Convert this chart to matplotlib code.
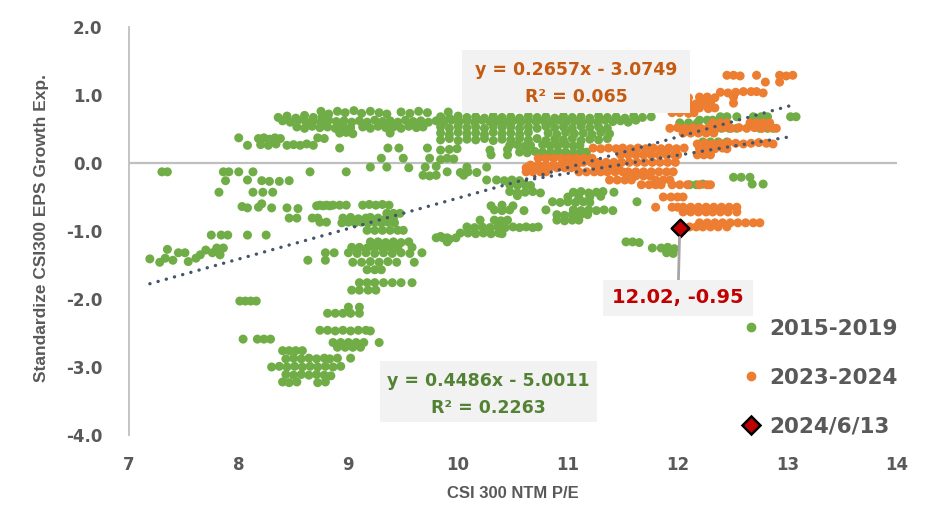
import matplotlib
matplotlib.use("Agg")
import matplotlib.pyplot as plt
from matplotlib.lines import Line2D
from matplotlib.patches import Rectangle
import numpy as np

# ---------------- data ----------------
green_x_rows = [
    [8.75, 8.82, 8.90, 8.97, 9.05, 9.12, 9.20, 9.28, 9.35, 9.48, 9.56, 9.64, 9.72, 9.91],
    [8.36, 8.44, 8.52, 8.60, 8.68, 8.76],
    [9.84, 9.92, 10.00, 10.08, 10.16, 10.24, 10.32, 10.40, 10.48, 10.56, 10.64, 10.72, 10.80],
    [10.88, 10.96, 11.04, 11.12, 11.20, 11.28, 11.36, 11.44, 11.52, 11.60, 11.68, 11.76],
    [8.40, 8.47, 8.54, 8.61, 8.68, 8.75, 8.82, 8.89, 8.96, 9.03],
    [9.10, 9.17, 9.24, 9.31, 9.38, 9.45, 9.52, 9.59, 9.66, 9.73],
    [9.80, 9.87, 9.94, 10.01, 10.08, 10.15, 10.22, 10.29, 10.36, 10.43],
    [10.50, 10.57, 10.64, 10.71, 10.78, 10.85, 10.92, 10.99, 11.06, 11.13],
    [11.20, 11.27, 11.34, 11.41, 11.48, 11.55, 11.62],
    [8.53, 8.60, 8.67, 8.74, 8.81, 8.88, 8.95, 9.02],
    [9.13, 9.20, 9.27, 9.34, 9.41, 9.48, 9.55, 9.62, 9.68],
    [9.84, 9.92, 10.00, 10.08, 10.16, 10.24, 10.32, 10.40, 10.48, 10.56],
    [10.64, 10.72, 10.80, 10.88, 10.96, 11.04, 11.12, 11.20, 11.28, 11.36],
    [8.92, 8.98, 9.04, 9.38],
    [9.84, 9.92, 10.00, 10.08, 10.16, 10.24, 10.32, 10.40, 10.48, 10.56, 10.64],
    [10.82, 10.90, 10.98, 11.06, 11.14, 11.22, 11.30, 11.38],
    [8.00, 8.18, 8.23, 8.28, 8.33, 8.38, 8.72, 8.78],
    [9.84, 9.92, 10.00, 10.08, 10.16, 10.24, 10.32, 10.40, 10.48, 10.56],
    [10.64, 10.72, 10.80, 10.88, 10.96, 11.04, 11.12, 11.20, 11.28, 11.36],
    [8.08, 8.20, 8.27, 8.34, 8.44, 8.50, 8.56, 8.62, 8.68],
    [10.47, 10.54, 10.61, 10.66, 10.77, 10.84, 10.91, 10.98, 11.05, 11.11],
    [8.92, 9.36, 9.46, 9.72, 9.84, 9.92, 9.99, 10.29, 10.45],
    [10.56, 10.63, 10.70, 10.77, 10.84, 10.91, 10.98, 11.05, 11.12, 11.17],
    [9.30, 9.50, 9.74, 9.84, 9.90, 9.96, 10.30, 10.45],
    [9.20, 9.35, 9.55, 9.70, 9.80, 10.08, 10.26],
    [7.30, 7.35, 7.86, 7.91, 8.00, 8.13, 8.65, 8.98, 9.90, 10.02, 10.09, 10.17],
    [9.68, 9.74, 9.80, 10.05],
    [7.88, 8.08, 8.21, 8.28, 8.37, 8.46, 10.26, 10.35, 10.42, 10.49, 10.56],
    [10.47, 10.54, 10.61, 10.66, 12.11, 12.17, 12.23, 12.51, 12.58],
    [12.66, 12.68, 12.78],
    [7.82, 8.13, 8.22, 8.31, 10.47, 10.54, 10.61, 10.68, 10.75, 11.05, 11.12, 11.19, 11.26, 11.32, 11.42],
    [10.54, 11.00, 11.10, 11.20, 11.30],
    [10.86, 10.93, 11.00, 11.07, 11.14, 11.20, 11.63],
    [8.03, 8.08, 8.18, 8.21, 8.30, 8.44, 8.54, 8.71, 8.77, 8.83],
    [8.74, 8.80, 8.86, 8.92, 8.98, 9.13, 9.19, 9.25, 9.31, 9.37],
    [10.30, 10.40, 10.50],
    [10.33, 10.40, 10.47, 10.60, 10.80, 11.05, 11.12, 11.19, 11.26, 11.33, 11.41],
    [9.35, 9.41, 9.47, 10.90, 10.97, 11.04, 11.11, 11.18],
    [8.46, 8.53, 8.67, 8.72, 8.95, 9.02, 9.09, 9.16, 9.20, 9.27],
    [9.34, 9.41, 10.20, 10.33, 10.39, 10.45, 10.90, 10.97, 11.04, 11.10],
    [8.74, 8.80, 8.94, 9.00, 9.06, 9.12, 9.18, 9.24, 9.30, 9.36, 9.42],
    [10.08, 10.15, 10.22, 10.29, 10.36, 10.43, 10.50, 10.56, 10.62, 10.68, 10.73],
    [9.17, 9.24, 9.31, 9.38, 9.45, 9.50, 9.84, 9.90],
    [10.02, 10.09, 10.16, 10.23, 10.30, 10.37, 10.40],
    [7.75, 7.84, 7.90, 8.08, 8.25, 9.80, 9.86, 9.92, 9.98],
    [9.20, 9.27, 9.34, 9.41, 9.48, 9.55, 9.90, 11.53, 11.59, 11.65],
    [9.03, 9.10, 9.17, 9.24, 9.31, 9.38, 9.45, 9.58, 11.77, 11.85, 11.91, 11.97],
    [8.79, 8.87, 9.00, 9.08, 9.16, 9.24, 9.32, 9.40, 9.48, 9.56, 9.67, 11.90, 11.96],
    [8.63, 8.79, 9.04, 9.12, 9.20, 9.28, 9.36, 9.44, 9.60],
    [7.19, 7.28, 7.33, 7.35, 7.40, 7.45, 7.51, 7.54, 7.61, 7.65, 7.70, 7.76, 7.80, 7.83, 7.86],
    [9.17, 9.24, 9.30, 9.10, 9.17, 9.24, 9.32, 9.40, 9.48, 9.58, 9.03, 9.10, 9.18, 9.25],
    [8.01, 8.06, 8.11, 8.16, 9.00, 9.10, 8.81, 8.88, 8.95, 9.02, 9.10],
    [8.74, 8.81, 8.88, 8.95, 9.02, 9.09, 9.16, 9.20],
    [8.04, 8.17, 8.23, 8.29, 8.86, 8.93, 9.00, 9.07, 9.14, 9.28],
    [8.90, 8.97, 9.04, 9.11, 8.40, 8.46, 8.52, 8.58],
    [8.43, 8.50, 8.57, 8.64, 8.71, 8.78, 8.83, 8.90, 9.02],
    [8.30, 8.37, 8.44, 8.51, 8.58, 8.65, 8.72, 8.79, 8.86, 8.93],
    [8.43, 8.50, 8.57, 8.64, 8.71, 8.78, 8.84],
    [8.40, 8.46, 8.53, 8.72, 8.79],
    [12.23, 12.30, 12.39, 12.45, 12.54, 12.69, 12.76, 12.82, 13.03, 13.08],
    [12.20, 12.27, 12.32, 12.02, 12.10, 12.18, 12.41, 12.32, 12.40, 12.47],
    [12.54, 12.75, 12.82, 12.87, 12.23, 12.30, 12.37, 12.45],
]
green_y_rows = [
    [0.76, 0.72, 0.76, 0.74, 0.77, 0.73, 0.76, 0.74, 0.72, 0.75, 0.73, 0.76, 0.74, 0.75],
    [0.67, 0.69, 0.66, 0.70, 0.67, 0.68],
    [0.68, 0.66, 0.69, 0.67, 0.68, 0.66, 0.69, 0.67, 0.68, 0.66, 0.69, 0.67, 0.68],
    [0.66, 0.69, 0.67, 0.68, 0.66, 0.69, 0.67, 0.68, 0.66, 0.69, 0.67, 0.68],
    [0.62, 0.60, 0.63, 0.61, 0.62, 0.60, 0.63, 0.61, 0.62, 0.60],
    [0.62, 0.60, 0.63, 0.61, 0.62, 0.60, 0.63, 0.61, 0.62, 0.60],
    [0.62, 0.60, 0.63, 0.61, 0.62, 0.60, 0.63, 0.61, 0.62, 0.60],
    [0.62, 0.60, 0.63, 0.61, 0.62, 0.60, 0.63, 0.61, 0.62, 0.60],
    [0.62, 0.60, 0.63, 0.61, 0.62, 0.60, 0.63],
    [0.53, 0.51, 0.54, 0.52, 0.53, 0.51, 0.54, 0.52],
    [0.53, 0.51, 0.54, 0.52, 0.53, 0.51, 0.54, 0.52, 0.53],
    [0.53, 0.51, 0.54, 0.52, 0.53, 0.51, 0.54, 0.52, 0.53, 0.51],
    [0.53, 0.51, 0.54, 0.52, 0.53, 0.51, 0.54, 0.52, 0.53, 0.51],
    [0.44, 0.45, 0.43, 0.44],
    [0.44, 0.42, 0.45, 0.43, 0.44, 0.42, 0.45, 0.43, 0.44, 0.42, 0.45],
    [0.44, 0.42, 0.45, 0.43, 0.44, 0.42, 0.45, 0.43],
    [0.37, 0.36, 0.37, 0.35, 0.37, 0.36, 0.37, 0.36],
    [0.34, 0.36, 0.33, 0.35, 0.34, 0.36, 0.33, 0.35, 0.34, 0.36],
    [0.34, 0.36, 0.33, 0.35, 0.34, 0.36, 0.33, 0.35, 0.34, 0.36],
    [0.26, 0.27, 0.26, 0.28, 0.26, 0.27, 0.26, 0.28, 0.26],
    [0.26, 0.27, 0.25, 0.26, 0.27, 0.25, 0.26, 0.27, 0.25, 0.26],
    [0.22, 0.22, 0.22, 0.22, 0.19, 0.20, 0.21, 0.19, 0.20],
    [0.16, 0.15, 0.17, 0.16, 0.15, 0.17, 0.16, 0.15, 0.17, 0.16],
    [0.07, 0.07, 0.07, 0.05, 0.07, 0.06, 0.12, 0.12],
    [-0.06, -0.06, -0.07, -0.06, -0.05, -0.06, -0.06],
    [-0.13, -0.13, -0.13, -0.13, -0.13, -0.13, -0.13, -0.13, -0.13, -0.14, -0.13, -0.14],
    [-0.18, -0.19, -0.18, -0.18],
    [-0.26, -0.25, -0.26, -0.27, -0.27, -0.26, -0.25, -0.25, -0.26, -0.25, -0.26],
    [-0.32, -0.33, -0.32, -0.33, -0.32, -0.32, -0.31, -0.21, -0.21],
    [-0.21, -0.31, -0.31],
    [-0.43, -0.43, -0.43, -0.43, -0.42, -0.44, -0.43, -0.42, -0.44, -0.43, -0.42, -0.44, -0.43, -0.42, -0.43],
    [-0.48, -0.50, -0.51, -0.50, -0.49],
    [-0.57, -0.58, -0.57, -0.58, -0.57, -0.58, -0.57],
    [-0.64, -0.66, -0.65, -0.60, -0.66, -0.66, -0.67, -0.63, -0.63, -0.63],
    [-0.62, -0.62, -0.62, -0.62, -0.62, -0.62, -0.61, -0.62, -0.61, -0.62],
    [-0.63, -0.62, -0.63],
    [-0.69, -0.70, -0.69, -0.70, -0.69, -0.69, -0.70, -0.69, -0.70, -0.69, -0.70],
    [-0.74, -0.74, -0.74, -0.76, -0.77, -0.76, -0.77, -0.76],
    [-0.81, -0.81, -0.81, -0.81, -0.81, -0.80, -0.82, -0.81, -0.80, -0.81],
    [-0.82, -0.81, -0.84, -0.84, -0.85, -0.84, -0.84, -0.85, -0.84, -0.84],
    [-0.87, -0.87, -0.88, -0.87, -0.88, -0.87, -0.88, -0.87, -0.88, -0.87, -0.88],
    [-0.94, -0.95, -0.94, -0.95, -0.94, -0.95, -0.94, -0.95, -0.94, -0.95, -0.94],
    [-0.99, -0.99, -0.99, -0.99, -0.99, -0.99, -1.08, -1.10],
    [-1.03, -1.03, -1.04, -1.03, -1.04, -1.03, -1.04],
    [-1.06, -1.06, -1.06, -1.06, -1.06, -1.10, -1.10, -1.12, -1.10],
    [-1.16, -1.16, -1.17, -1.16, -1.17, -1.16, -1.16, -1.16, -1.16, -1.17],
    [-1.24, -1.24, -1.25, -1.24, -1.25, -1.24, -1.25, -1.24, -1.25, -1.25, -1.24, -1.26],
    [-1.32, -1.32, -1.32, -1.33, -1.32, -1.33, -1.32, -1.33, -1.32, -1.33, -1.32, -1.32, -1.33],
    [-1.43, -1.43, -1.46, -1.46, -1.45, -1.46, -1.45, -1.46, -1.46],
    [-1.41, -1.46, -1.40, -1.27, -1.43, -1.32, -1.32, -1.45, -1.40, -1.35, -1.28, -1.32, -1.25, -1.35, -1.25],
    [-1.57, -1.57, -1.57, -1.76, -1.76, -1.76, -1.76, -1.76, -1.76, -1.76, -1.87, -1.87, -1.87, -1.87],
    [-2.03, -2.03, -2.03, -2.03, -2.12, -2.12, -2.21, -2.21, -2.21, -2.21, -2.21],
    [-2.46, -2.46, -2.47, -2.46, -2.47, -2.46, -2.46, -2.47],
    [-2.59, -2.59, -2.59, -2.59, -2.64, -2.64, -2.64, -2.64, -2.64, -2.64],
    [-2.71, -2.71, -2.71, -2.71, -2.76, -2.76, -2.76, -2.76],
    [-2.88, -2.87, -2.88, -2.87, -2.88, -2.87, -2.88, -2.87, -2.87],
    [-3.00, -2.99, -3.00, -2.99, -3.00, -2.99, -3.00, -2.99, -3.00, -2.99],
    [-3.11, -3.12, -3.11, -3.12, -3.11, -3.12, -3.13],
    [-3.22, -3.23, -3.22, -3.23, -3.22],
    [0.88, 0.88, 0.68, 0.68, 0.68, 0.68, 0.68, 0.68, 0.68, 0.68],
    [0.63, 0.63, 0.63, 0.59, 0.59, 0.59, 0.59, 0.51, 0.51, 0.51],
    [0.51, 0.51, 0.51, 0.51, 0.31, 0.31, 0.31, 0.31],
]

orange_x_rows = [
    [12.45, 12.51, 12.57, 12.72, 12.93, 12.99, 13.05],
    [12.80, 12.93],
    [12.39, 12.46, 12.53, 12.60, 12.67, 12.72, 12.78],
    [11.96, 12.03, 12.10, 12.20, 12.27, 12.34, 12.51],
    [11.96, 12.03, 12.10, 12.17, 12.24, 12.30, 12.51],
    [11.97, 12.05, 12.12, 12.20, 12.28, 12.34],
    [11.95, 12.02, 12.10, 12.15],
    [12.32, 12.39, 12.45, 12.66, 12.72, 12.78, 12.84],
    [11.93, 12.00, 12.07, 12.14, 12.21, 12.28, 12.35, 12.42, 12.49, 12.56, 12.63, 12.70, 12.77, 12.84, 12.90],
    [12.05, 12.12, 12.19, 12.26, 12.33],
    [12.18, 12.25, 12.32, 12.39, 12.46, 12.53, 12.60, 12.67, 12.74, 12.81, 12.87],
    [11.23, 11.30, 11.37, 11.44, 11.50, 11.57, 11.64, 11.71, 11.78, 11.85, 11.92, 11.99, 12.06, 12.20, 12.27, 12.34, 12.41, 12.45],
    [11.48, 11.55, 11.62, 11.69, 11.76, 11.83, 11.90, 11.97, 12.00, 12.18, 12.24, 12.30],
    [10.73, 10.80, 10.87, 10.94, 11.01, 11.08, 11.15, 11.22],
    [11.00, 11.07, 11.14, 11.21, 11.28, 11.35, 11.42, 11.49, 11.56, 11.63, 11.70, 11.77, 11.84, 11.91, 11.98],
    [10.66, 10.73, 10.80, 10.87, 10.94, 11.01, 11.08],
    [10.62, 10.69, 10.76, 10.83, 10.90, 10.97, 11.03, 11.25, 11.32, 11.39, 11.46],
    [10.62, 10.68, 10.75, 10.80, 11.10, 11.17, 11.24, 11.30, 11.36, 11.43, 11.50, 11.55, 11.62, 11.69, 11.76, 11.83, 11.90, 11.96],
    [11.55, 11.62, 11.69, 11.75],
    [11.38, 11.45, 11.52, 11.58, 11.80, 11.87, 11.93],
    [11.67, 11.74, 11.80, 11.85, 11.95, 12.02, 12.09, 12.20, 12.27, 12.30],
    [11.87, 11.94, 12.00, 12.05],
    [11.80, 11.95, 12.00, 12.05, 12.12, 12.19, 12.26, 12.33, 12.40, 12.47, 12.54],
    [12.05, 12.12, 12.19, 12.26, 12.32, 12.39, 12.46, 12.54],
    [12.20, 12.27, 12.34, 12.41, 12.48, 12.55, 12.62, 12.69, 12.75],
    [12.11, 12.17, 12.23, 12.30, 12.37, 12.45],
]
orange_y_rows = [
    [1.29, 1.29, 1.28, 1.29, 1.29, 1.28, 1.29],
    [1.19, 1.19],
    [1.04, 1.03, 1.04, 1.05, 1.05, 1.05, 1.03],
    [0.96, 0.97, 0.96, 0.97, 0.97, 0.96, 0.97],
    [0.88, 0.89, 0.88, 0.87, 0.88, 0.89, 0.88],
    [0.81, 0.80, 0.81, 0.81, 0.80, 0.81],
    [0.74, 0.74, 0.73, 0.74],
    [0.59, 0.59, 0.59, 0.59, 0.59, 0.59, 0.59],
    [0.51, 0.52, 0.51, 0.52, 0.51, 0.52, 0.51, 0.52, 0.51, 0.52, 0.51, 0.52, 0.51, 0.52, 0.51],
    [0.44, 0.44, 0.44, 0.44, 0.44],
    [0.28, 0.29, 0.28, 0.29, 0.30, 0.29, 0.28, 0.29, 0.30, 0.29, 0.28],
    [0.22, 0.21, 0.22, 0.21, 0.22, 0.21, 0.22, 0.21, 0.22, 0.21, 0.22, 0.21, 0.22, 0.21, 0.22, 0.21, 0.22, 0.21],
    [0.12, 0.12, 0.12, 0.12, 0.12, 0.12, 0.12, 0.12, 0.12, 0.12, 0.12, 0.12],
    [0.07, 0.07, 0.07, 0.07, 0.07, 0.07, 0.07, 0.07],
    [0.01, 0.01, 0.01, 0.01, 0.01, 0.01, 0.01, 0.01, 0.01, 0.01, 0.01, 0.01, 0.01, 0.01, 0.01],
    [-0.03, -0.03, -0.03, -0.03, -0.03, -0.03, -0.03],
    [-0.07, -0.07, -0.07, -0.07, -0.07, -0.07, -0.07, -0.07, -0.07, -0.07, -0.07],
    [-0.13, -0.13, -0.13, -0.13, -0.13, -0.13, -0.13, -0.13, -0.13, -0.13, -0.13, -0.13, -0.13, -0.13, -0.13, -0.13, -0.13, -0.13],
    [-0.19, -0.19, -0.19, -0.19],
    [-0.25, -0.25, -0.25, -0.25, -0.25, -0.25, -0.25],
    [-0.32, -0.32, -0.32, -0.32, -0.32, -0.32, -0.32, -0.32, -0.32, -0.32],
    [-0.50, -0.50, -0.50, -0.50],
    [-0.65, -0.65, -0.65, -0.65, -0.65, -0.65, -0.65, -0.65, -0.65, -0.65, -0.65],
    [-0.72, -0.72, -0.72, -0.72, -0.72, -0.72, -0.72, -0.72],
    [-0.88, -0.88, -0.88, -0.88, -0.88, -0.88, -0.88, -0.88, -0.88],
    [-0.94, -0.94, -0.94, -0.94, -0.94, -0.94],
]

latest_x = [12.02]
latest_y = [-0.95]

series_labels = ["2015-2019", "2023-2024", "2024/6/13"]
x_ticks = [7, 8, 9, 10, 11, 12, 13, 14]
y_ticks = [-4.0, -3.0, -2.0, -1.0, 0.0, 1.0, 2.0]

green_fit = (0.4486, -5.0011, 0.2263)
orange_fit = (0.2657, -3.0749, 0.065)

# ---------------- checks / flatten ----------------
for name, xr, yr in (("green", green_x_rows, green_y_rows), ("orange", orange_x_rows, orange_y_rows)):
    for i, (a, b) in enumerate(zip(xr, yr)):
        if len(a) != len(b):
            raise ValueError(f"{name} row {i}: {len(a)} x vs {len(b)} y")
green_x = np.array([v for r in green_x_rows for v in r])
green_y = np.array([v for r in green_y_rows for v in r])
orange_x = np.array([v for r in orange_x_rows for v in r])
orange_y = np.array([v for r in orange_y_rows for v in r])

# ---------------- styling ----------------
GREEN = "#70AD47"
ORANGE = "#ED7D31"
RED = "#C00000"
GREY_TXT = "#595959"
AXIS = "#BFBFBF"
TREND = "#44546A"
BOX = "#F2F2F2"
W, H = 930, 511

fig = plt.figure(figsize=(9.3, 5.11), dpi=100)
ax = fig.add_axes([129 / W, 1 - 435 / H, (897 - 129) / W, (435 - 27) / H])
ax.set_xlim(7, 14)
ax.set_ylim(-4, 2)

ax.axhline(0, color=AXIS, lw=1.6, zorder=1)
ax.scatter(green_x, green_y, s=42, c=GREEN, edgecolors="none", zorder=2)
ax.scatter(orange_x, orange_y, s=42, c=ORANGE, edgecolors="none", zorder=3)

for (a, b, _), xs in ((green_fit, green_x), (orange_fit, orange_x)):
    xx = np.array([xs.min(), xs.max()])
    ax.plot(xx, a * xx + b, color=TREND, lw=2.4, linestyle=(0, (0.05, 2.5)),
            dash_capstyle="round", zorder=6)

ax.scatter(latest_x, latest_y, marker="D", s=80, c=RED, edgecolors="black",
           linewidths=1.8, zorder=7)

for s in ("top", "right", "bottom"):
    ax.spines[s].set_visible(False)
ax.spines["left"].set_color(AXIS)
ax.spines["left"].set_linewidth(1.3)

ax.set_xticks(x_ticks)
ax.set_xticklabels([str(t) for t in x_ticks])
ax.set_yticks(y_ticks)
ax.set_yticklabels([f"{t:.1f}" for t in y_ticks])
ax.tick_params(axis="both", length=0, labelsize=12, labelcolor=GREY_TXT)
ax.tick_params(axis="y", pad=19)
ax.tick_params(axis="x", pad=15)
for lab in ax.get_xticklabels() + ax.get_yticklabels():
    lab.set_fontweight("bold")

label_font = ["Liberation Sans", "DejaVu Sans"]
fig.text(42 / W, 1 - 228 / H, "Standardize CSI300 EPS Growth Exp.", rotation=90,
         ha="center", va="center", fontsize=12.5, color=GREY_TXT, fontweight="bold",
         family=label_font)
fig.text(513 / W, 1 - 494 / H, "CSI 300 NTM P/E", ha="center", va="center",
         fontsize=12, color=GREY_TXT, fontweight="bold", family=label_font)

# equation boxes
def eq_box(x0, y0, x1, y1, fit, color):
    fig.add_artist(Rectangle((x0 / W, 1 - y1 / H), (x1 - x0) / W, (y1 - y0) / H,
                             transform=fig.transFigure, facecolor=BOX, edgecolor="none",
                             zorder=8))
    a, b, r2 = fit
    cx = (x0 + x1) / 2 / W
    fig.text(cx, 1 - (y0 + 20) / H, f"y = {a:.4f}x - {abs(b):.4f}", ha="center", va="center",
             fontsize=12.5, fontweight="bold", color=color, zorder=9)
    fig.text(cx, 1 - (y0 + 47) / H, f"R² = {r2}", ha="center", va="center",
             fontsize=12.5, fontweight="bold", color=color, zorder=9)

eq_box(462, 50, 690, 113, orange_fit, "#C55A11")
eq_box(380, 361, 597, 422, green_fit, "#548235")

# latest point label
ax.annotate(f"{latest_x[0]:.2f}, {latest_y[0]:.2f}", xy=(latest_x[0], latest_y[0]),
            xytext=(678 / W, 1 - 298 / H), textcoords="figure fraction",
            ha="center", va="center", fontsize=14, fontweight="bold", color=RED,
            bbox=dict(boxstyle="square,pad=0.45", fc=BOX, ec="none"),
            arrowprops=dict(arrowstyle="-", color="#A6A6A6", lw=2, shrinkA=0, shrinkB=7),
            zorder=9)

handles = [
    Line2D([], [], marker="o", ls="", ms=6, color=GREEN),
    Line2D([], [], marker="o", ls="", ms=6, color=ORANGE),
    Line2D([], [], marker="D", ls="", ms=9, markerfacecolor=RED, markeredgecolor="black",
           markeredgewidth=1.8),
]
leg = fig.legend(handles, series_labels, loc="upper left", bbox_to_anchor=(740 / W, 1 - 319 / H),
                 frameon=False, prop={"size": 15.5, "weight": "bold"}, labelspacing=1.33,
                 handletextpad=0.35, handlelength=1.0, borderpad=0, borderaxespad=0)
for t in leg.get_texts():
    t.set_color(GREY_TXT)

fig.savefig("out.png", dpi=100)
